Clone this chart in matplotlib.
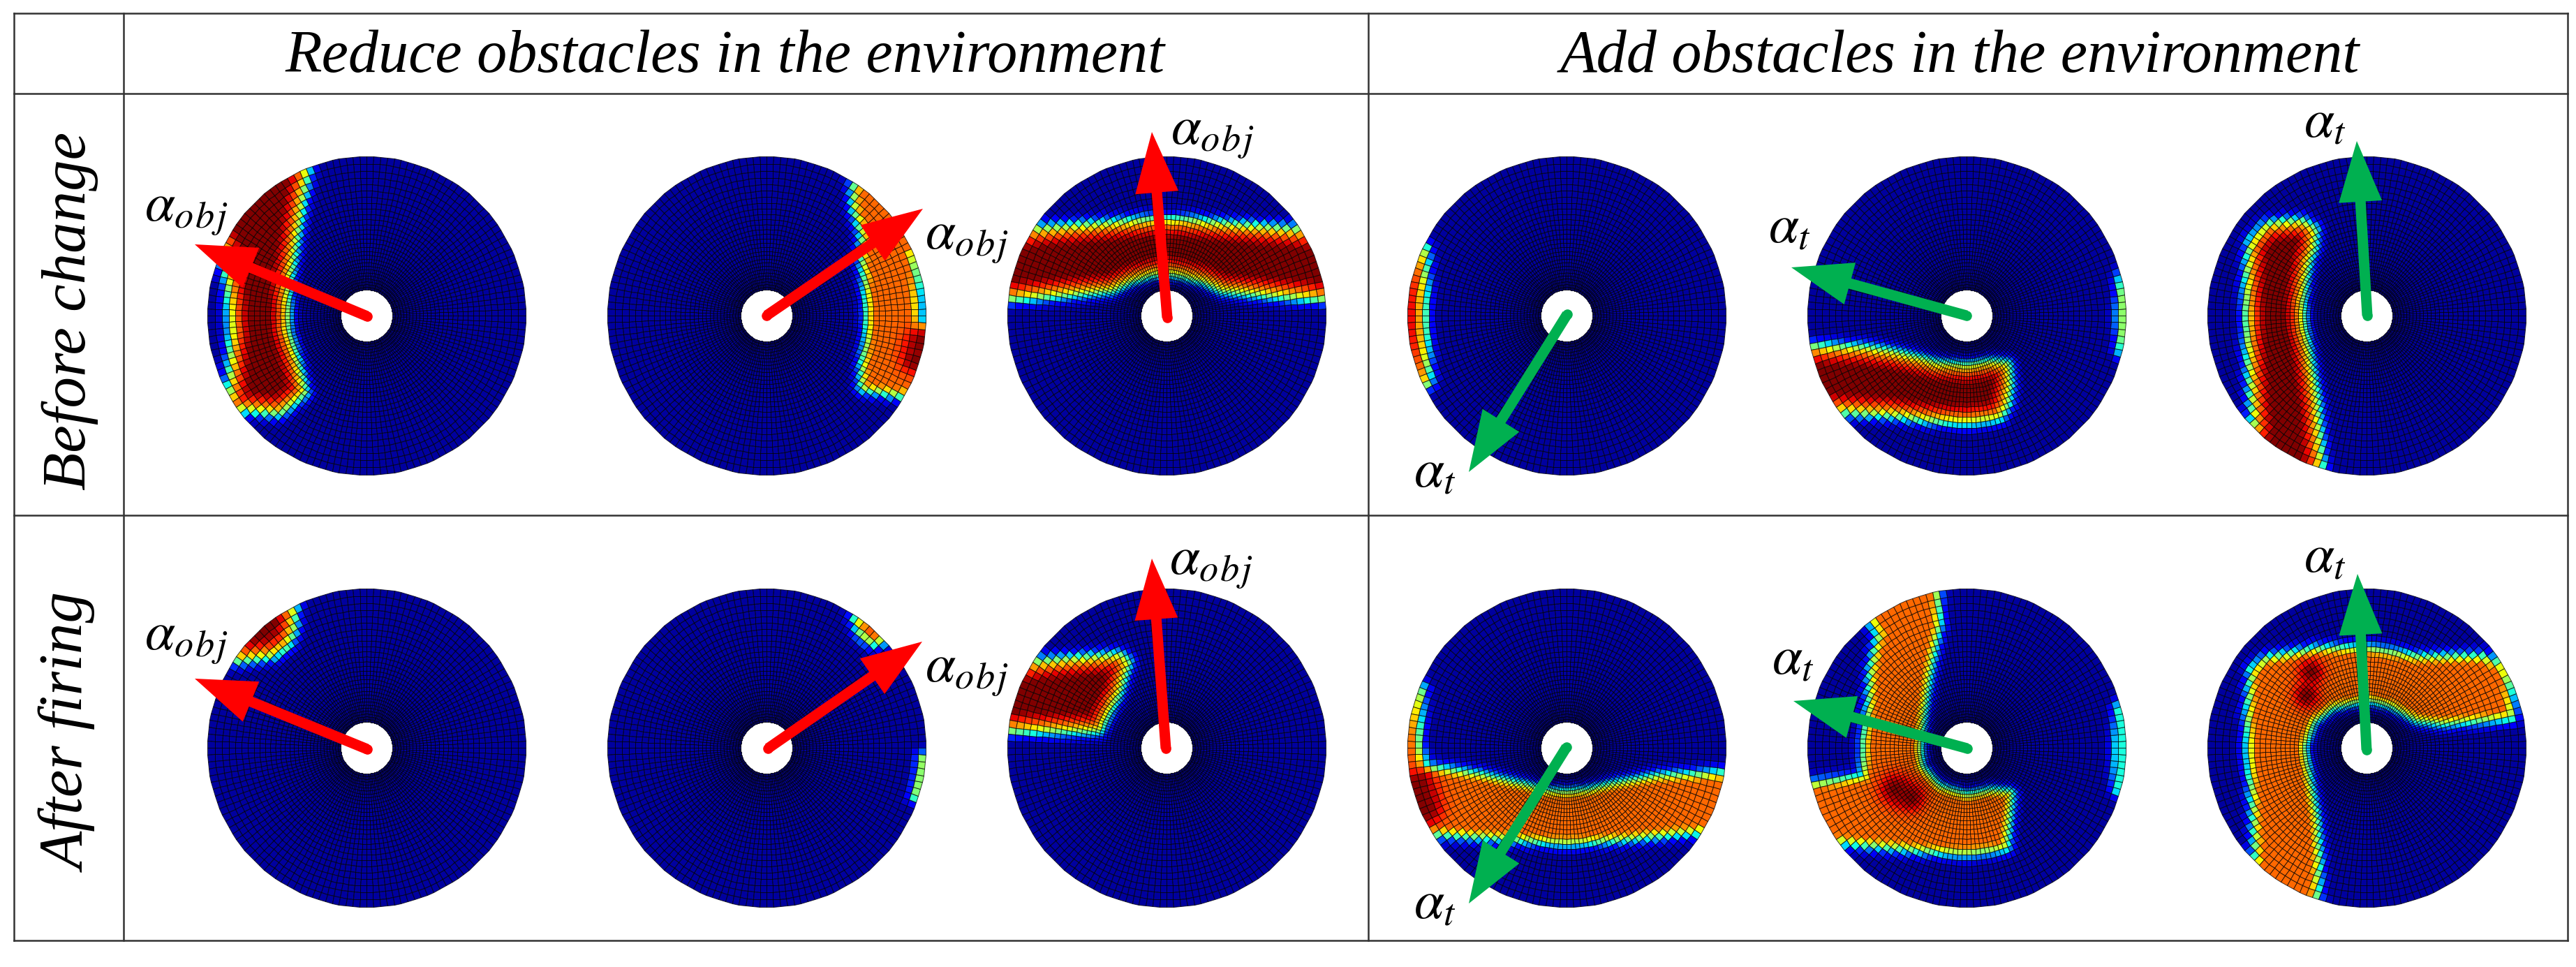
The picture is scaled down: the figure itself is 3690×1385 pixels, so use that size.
import numpy as np
import matplotlib
matplotlib.use("Agg")
import matplotlib.pyplot as plt
from matplotlib.path import Path
from matplotlib.patches import FancyArrow

plt.rcParams['mathtext.fontset'] = 'stix'

W, H = 3691, 1385

# ---------------------- TABLE ----------------------
col_lines = [20, 177, 1960, 3678]
row_lines = [19, 134, 738, 1347]
col_titles = ["Reduce obstacles in the environment", "Add obstacles in the environment"]
row_titles = ["Before change", "After firing"]

# ---------------------- DISCS ----------------------
disc_x = [525, 1098, 1671, 2244, 2817, 3390]
disc_y = [452, 1071]
R = 228
HOLE = 37

# active regions, unit disc coords (x right, y up)
a1_top = [(-.39, 1.1), (-.39, .90), (-.44, .57), (-.51, .16), (-.51, -.09), (-.44, -.32), (-.40, -.48),
          (-.55, -.60), (-.85, -.57), (-.84, -.1), (-.86, .2), (-.90, .45), (-1.3, .6), (-1.1, 1.1)]
a2_top = [(.56, 1.0), (.56, .81), (.56, .68), (.61, .52), (.61, .37), (.63, .23), (.645, .05), (.645, -.14),
          (.615, -.30), (.61, -.445), (.87, -.49), (1.3, -.55), (1.3, -.06), (.945, -.06), (.93, .23),
          (.90, .40), (1.1, .6), (.9, 1.0)]
a3_top = [(-1.3, .51), (-.82, .535), (-.44, .565), (-.10, .594), (.10, .594), (.40, .565), (.82, .53), (1.3, .51),
          (1.3, .117), (.99, .117), (.655, .14), (.35, .17), (.235, .227), (.10, .264), (0, .28), (-.10, .27),
          (-.235, .227), (-.35, .17), (-.6, .147), (-.99, .117), (-1.3, .117)]
b1_top = [(-1.3, .45), (-.90, .42), (-.905, .2), (-.91, 0), (-.90, -.2), (-.88, -.42), (-1.2, -.5)]
b2_top = [(-1.3, -.2), (-.968, -.205), (-.65, -.21), (-.48, -.235), (-.33, -.27), (-.19, -.31), (0, -.325),
          (.15, -.30), (.25, -.31), (.26, -.43), (.245, -.55), (.20, -.63), (0, -.66), (-.27, -.64),
          (-.485, -.61), (-.78, -.59), (-1.3, -.58)]
b2_rim = [(1.2, .3), (.985, .25), (.975, 0), (.985, -.22), (1.2, -.3)]
b3_top = [(-.747, .08), (-.74, .285), (-.72, .46), (-.63, .56), (-.53, .578), (-.41, .585), (-.338, .54),
          (-.345, .43), (-.374, .358), (-.40, .227), (-.418, .08), (-.41, -.066), (-.38, -.21), (-.352, -.373),
          (-.323, -.548), (-.308, -.797), (-.30, -.93), (-.28, -1.1), (-.75, -.95), (-.696, -.694),
          (-.71, -.548), (-.725, -.358), (-.74, -.153)]

a1_bot = [(-.47, 1.1), (-.47, .875), (-.47, .75), (-.51, .648), (-.60, .59), (-.71, .575), (-.82, .56),
          (-1.2, .6), (-1, 1.1)]
a2_bot = [(.56, .9), (.57, .80), (.60, .72), (.66, .67), (.8, .7), (.8, 1.0)]
a2_rim = [(1.2, -.06), (.985, -.07), (.975, -.17), (.945, -.30), (1.2, -.4)]
a3_bot = [(-1.3, .52), (-.82, .53), (-.566, .553), (-.30, .575), (-.255, .54), (-.31, .355), (-.39, .20),
          (-.43, .12), (-.986, .12), (-1.3, .12)]
b1_bot = [(-1.3, .45), (-.925, .37), (-.945, .2), (-.945, 0), (-.90, -.13), (-.55, -.18), (-.29, -.24),
          (-.117, -.283), (0, -.29), (.144, -.276), (.318, -.232), (.58, -.188), (.98, -.173), (1.3, -.17),
          (1.3, -.5), (.85, -.51), (.666, -.525), (.405, -.554), (0, -.584), (-.308, -.56), (-.586, -.54),
          (-.81, -.525), (-1.3, -.5)]
b2_bot = [(-.21, 1.1), (-.20, .97), (-.19, .78), (-.24, .535), (-.29, .205), (-.31, .01), (-.30, -.12),
          (-.18, -.255), (0, -.31), (.15, -.28), (.266, -.29), (.25, -.45), (.234, -.617), (0, -.65),
          (-.335, -.625), (-.794, -.575), (-1.3, -.55), (-1.3, -.25), (-.97, -.24), (-.636, -.19),
          (-.636, .04), (-.60, .27), (-.59, .485), (-.54, .715), (-.60, .82), (-.6, 1.1)]
b2_bot_rim = [(1.2, .28), (.97, .25), (.965, 0), (.96, -.25), (1.2, -.3)]
b3_bot = [(-.71, .485), (-.734, .205), (-.728, -.058), (-.70, -.37), (-.68, -.70), (-.72, -.95), (-.3, -1.1),
          (-.33, -.93), (-.316, -.70), (-.33, -.45), (-.38, -.173), (-.41, .01), (-.348, .173), (-.22, .27),
          (0, .32), (.158, .28), (.316, .19), (.47, .17), (.90, .205), (.886, .337), (.854, .50), (.728, .56),
          (.316, .56), (0, .617), (-.316, .61), (-.63, .55)]

# (region, peak value) per disc, top row then bottom row
regions = [
    [[(a1_top, 1.0)], [(a2_top, .8)], [(a3_top, 1.0)], [(b1_top, 1.0)], [(b2_top, 1.0), (b2_rim, .52)], [(b3_top, 1.0)]],
    [[(a1_bot, 1.0)], [(a2_bot, .9), (a2_rim, .62)], [(a3_bot, 1.0)], [(b1_bot, .8)], [(b2_bot, .8), (b2_bot_rim, .38)], [(b3_bot, .8)]],
]
# dark spots on the orange plateaus: x, y, size
hot_a2 = [(.97, -.17, .07), (.93, -.28, .06)]
hot_c1 = [(-.93, -.22, .06), (-.92, -.32, .08), (-.88, -.40, .06)]
hot_c2 = [(-.45, -.26, .07), (-.35, -.31, .06)]
hot_c3 = [(-.35, .48, .055), (-.38, .33, .055)]
hot_spots = [[[], hot_a2, [], [], [], []], [[], [], [], hot_c1, hot_c2, hot_c3]]

# edge profile: distance inside region -> field value
ramp_d = [-.10, -.06, -.03, 0, .03, .06, .11]
ramp_v = [.03, .13, .36, .62, .78, .88, 1.0]

# ---------------------- ARROWS ----------------------
arrow_start = [[(526, 453), (1098, 452), (1672, 455), (2245, 450), (2817, 452), (3391, 452)],
               [(526, 1073), (1100, 1072), (1670, 1072), (2244, 1070), (2818, 1072), (3390, 1074)]]
arrow_tip = [[(279, 350), (1322, 299), (1650, 189), (2104, 676), (2566, 383), (3376, 202)],
             [(279, 972), (1321, 919), (1650, 800), (2104, 1294), (2569, 1004), (3377, 822)]]
arrow_colors = ['#ff0000'] * 3 + ['#00b050'] * 3

label_text = [r"$\alpha_{o\hspace{0.06}b\hspace{0.06}j}$"] * 3 + [r"$\alpha_{t}$"] * 3
label_pos = [[(207, 316), (1325, 357), (1677, 206), (2025, 697), (2533, 347), (3300, 196)],
             [(207, 930), (1325, 977), (1675, 823), (2025, 1315), (2538, 965), (3300, 819)]]


def inside_distance(px, py, verts):
    # signed distance to the polygon, positive inside
    v = np.array(verts)
    pts = np.column_stack([px.ravel(), py.ravel()])
    a, b = v, np.roll(v, -1, axis=0)
    best = np.full(len(pts), np.inf)
    for p, q in zip(a, b):
        seg = q - p
        t = np.clip(((pts - p) @ seg) / (seg @ seg), 0, 1)
        best = np.minimum(best, np.hypot(*(pts - p - t[:, None] * seg).T))
    best[~Path(v).contains_points(pts)] *= -1
    return best.reshape(px.shape)


def disc_field(px, py, disc_regions, spots):
    field = np.full(px.shape, ramp_v[0])
    for verts, peak in disc_regions:
        d = inside_distance(px, py, verts)
        field = np.maximum(field, np.minimum(np.interp(d, ramp_d, ramp_v), peak))
    for sx, sy, size in spots:
        bump = np.exp(-((px - sx) ** 2 + (py - sy) ** 2) / (2 * size ** 2))
        field = np.where(field > .6, field + (1 - field) * bump, field)
    return field


# polar mesh, rings get tighter towards the hole
ring_steps = np.geomspace(3.5, 10, 29)
radii = (HOLE + np.concatenate([[0], np.cumsum(ring_steps)]) * (R - HOLE) / ring_steps.sum()) / R
angles = np.linspace(0, 2 * np.pi, 145)
rr, aa = np.meshgrid(radii, angles)
ex, ey = rr * np.cos(aa), rr * np.sin(aa)
rc, ac = (radii[:-1] + radii[1:]) / 2, (angles[:-1] + angles[1:]) / 2
rrc, aac = np.meshgrid(rc, ac)
cx_unit, cy_unit = rrc * np.cos(aac), rrc * np.sin(aac)

fig = plt.figure(figsize=(W / 100, H / 100), dpi=100)
ax = fig.add_axes([0, 0, 1, 1])
ax.set_xlim(0, W)
ax.set_ylim(H, 0)
ax.axis('off')

for row, y0 in enumerate(disc_y):
    for col, x0 in enumerate(disc_x):
        field = disc_field(cx_unit, cy_unit, regions[row][col], hot_spots[row][col])
        ax.pcolormesh(x0 + R * ex, y0 - R * ey, field, cmap='jet', vmin=0, vmax=1,
                      edgecolors=(0, 0, 0, .75), linewidth=.7, antialiased=True, zorder=1)
        sx, sy = arrow_start[row][col]
        tx, ty = arrow_tip[row][col]
        ax.add_patch(FancyArrow(sx, sy, tx - sx, ty - sy, width=15, head_width=62, head_length=87,
                                length_includes_head=True, color=arrow_colors[col], lw=0, zorder=3))
        ax.plot([sx], [sy], 'o', ms=10.5, color=arrow_colors[col], mew=0, zorder=3)
        lx, ly = label_pos[row][col]
        ax.text(lx, ly, label_text[col], fontsize=56, color='black', ha='left', va='baseline', zorder=4)

# table rules
for x in col_lines:
    ax.plot([x, x], [row_lines[0], row_lines[-1]], color='#333333', lw=1.8, zorder=5, solid_capstyle='projecting')
for y in row_lines:
    ax.plot([col_lines[0], col_lines[-1]], [y, y], color='#333333', lw=1.8, zorder=5, solid_capstyle='projecting')

serif = 'Liberation Serif'
ax.text(1038, 103, col_titles[0], family=serif, style='italic', fontsize=62, ha='center', va='baseline')
ax.text(2807, 103, col_titles[1], family=serif, style='italic', fontsize=62, ha='center', va='baseline')
ax.text(122, 445, row_titles[0], family=serif, style='italic', fontsize=64, rotation=90,
        ha='center', va='baseline', rotation_mode='anchor')
ax.text(122, 1050, row_titles[1], family=serif, style='italic', fontsize=64, rotation=90,
        ha='center', va='baseline', rotation_mode='anchor')

fig.savefig('out.png', dpi=100)
